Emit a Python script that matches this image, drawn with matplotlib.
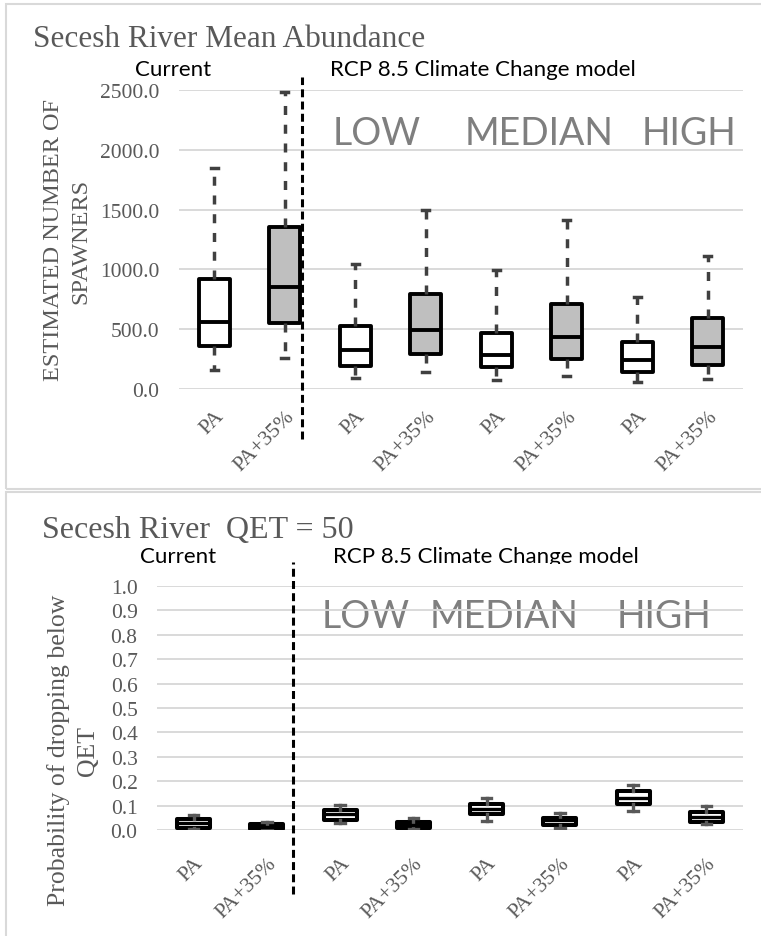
import matplotlib.pyplot as plt
from matplotlib.patches import Rectangle
from matplotlib.ticker import FormatStrFormatter
from matplotlib.transforms import Bbox, TransformedBbox

# box statistics
labels = ['PA', 'PA+35%'] * 4

abund_whislo = [160, 260, 90, 140, 75, 110, 60, 85]
abund_q1 = [360, 550, 195, 295, 180, 255, 140, 200]
abund_med = [560, 850, 325, 490, 285, 435, 240, 355]
abund_q3 = [920, 1355, 525, 795, 470, 710, 390, 590]
abund_whishi = [1845, 2480, 1045, 1500, 995, 1415, 770, 1115]
abund_fill = ['white', '#bfbfbf'] * 4

qet_whislo = [0.004, 0.003, 0.028, 0.004, 0.037, 0.008, 0.078, 0.025]
qet_q1 = [0.010, 0.005, 0.042, 0.008, 0.064, 0.022, 0.106, 0.032]
qet_med = [0.028, 0.012, 0.065, 0.020, 0.088, 0.040, 0.132, 0.052]
qet_q3 = [0.045, 0.024, 0.083, 0.034, 0.106, 0.050, 0.158, 0.074]
qet_whishi = [0.062, 0.032, 0.104, 0.049, 0.133, 0.070, 0.185, 0.100]

serif = 'Liberation Serif'
sans = 'Lato'
grey = '#595959'

W, H = 761, 937
fig = plt.figure(figsize=(W / 100, H / 100), dpi=100)


def fx(x):
    return x / W


def fy(y):
    return 1 - y / H


def add_ax(left, top, right, bottom):
    return fig.add_axes([fx(left), fy(bottom), (right - left) / W, (bottom - top) / H])


def stats(lo, q1, med, q3, hi):
    return [dict(whislo=a, q1=b, med=c, q3=d, whishi=e, fliers=[])
            for a, b, c, d, e in zip(lo, q1, med, q3, hi)]


def style(ax, pad_x):
    for s in ax.spines.values():
        s.set_visible(False)
    ax.set_xlim(-0.5, 7.5)
    ax.grid(axis='y', color='#d9d9d9', lw=1.4)
    ax.set_axisbelow(True)
    ax.tick_params(length=0, labelcolor=grey, labelsize=15.5)
    ax.tick_params(axis='y', pad=14)
    ax.tick_params(axis='x', pad=pad_x)
    ax.set_xticks(range(8))
    ax.set_xticklabels(labels, rotation=45, ha='right', rotation_mode='anchor')
    for t in ax.get_xticklabels() + ax.get_yticklabels():
        t.set_fontfamily(serif)
    ax.yaxis.set_major_formatter(FormatStrFormatter('%.1f'))


def vlabel(x, y, s, size):
    fig.text(fx(x), fy(y), s, family=serif, size=size, color=grey, rotation=90,
             ha='center', va='center')


# panel frames
fig.add_artist(Rectangle((fx(6), fy(490)), fx(800), (490 - 5) / H, transform=fig.transFigure,
                         fill=False, edgecolor='#d9d9d9', lw=1.5))
fig.add_artist(Rectangle((fx(6), fy(960)), fx(800), (960 - 493) / H, transform=fig.transFigure,
                         fill=False, edgecolor='#d9d9d9', lw=1.5))

# ---------------- top: mean abundance ----------------
ax1 = add_ax(179, 91, 743, 390)
bp = ax1.bxp(stats(abund_whislo, abund_q1, abund_med, abund_q3, abund_whishi),
             positions=range(8), widths=0.44, capwidths=0.1, patch_artist=True, showfliers=False,
             boxprops=dict(edgecolor='black', linewidth=2.8, joinstyle='round'),
             medianprops=dict(color='black', linewidth=2.8, solid_capstyle='butt'),
             whiskerprops=dict(color='#404040', linewidth=2.5, linestyle=(0, (2.6, 2.8))),
             capprops=dict(color='#404040', linewidth=2.5))
for patch, c in zip(bp['boxes'], abund_fill):
    patch.set_facecolor(c)
ax1.set_ylim(0, 2500)
ax1.set_yticks(range(0, 2501, 500))
style(ax1, 12.5)
ax1.axvline(1.25, ymin=-0.167, ymax=1.043, color='black', lw=2.2,
            linestyle=(0, (2.6, 1.4)), clip_on=False)

fig.text(fx(33), fy(47), 'Secesh River Mean Abundance', family=serif, size=22.5,
         color=grey, va='baseline')
fig.text(fx(173), fy(76), 'Current', family=sans, size=16, ha='center', va='baseline')
fig.text(fx(330), fy(76), 'RCP 8.5 Climate Change model', family=sans, size=16, va='baseline')
for x, s in [(333, 'LOW'), (465, 'MEDIAN'), (642, 'HIGH')]:
    ax1.text(fx(x), fy(145), s, family=sans, size=27, color='#7f7f7f', va='baseline',
             transform=fig.transFigure, zorder=0.3)
vlabel(54, 240, 'ESTIMATED NUMBER OF', 17.5)
vlabel(81, 241, 'SPAWNERS', 17.5)

# ---------------- bottom: probability below QET ----------------
ax2 = add_ax(157, 587, 743, 831)
ax2.bxp(stats(qet_whislo, qet_q1, qet_med, qet_q3, qet_whishi),
        positions=range(8), widths=0.45, capwidths=0.13, patch_artist=True, showfliers=False,
        boxprops=dict(facecolor='white', edgecolor='black', linewidth=2.9, joinstyle='round'),
        medianprops=dict(color='black', linewidth=2.4, solid_capstyle='butt'),
        whiskerprops=dict(color=grey, linewidth=2.4),
        capprops=dict(color=grey, linewidth=2.4))
ax2.set_ylim(0, 1.0)
ax2.set_yticks([i / 10 for i in range(11)])
style(ax2, 17)
ax2.axvline(1.35, ymin=-0.262, ymax=1.10, color='black', lw=2.2,
            linestyle=(0, (2.6, 1.4)), clip_on=False)

fig.text(fx(42), fy(538), 'Secesh River  QET = 50', family=serif, size=23,
         color=grey, va='baseline')
# the header row is cut off just under its baseline in the original
cut = TransformedBbox(Bbox([[0, fy(565)], [1, 1]]), fig.transFigure)
for x, s, ha in [(178, 'Current', 'center'), (333, 'RCP 8.5 Climate Change model', 'left')]:
    t = fig.text(fx(x), fy(563), s, family=sans, size=16, ha=ha, va='baseline')
    t.set_clip_box(cut)
    t.set_clip_on(True)
for x, s in [(322, 'LOW'), (430, 'MEDIAN'), (617, 'HIGH')]:
    ax2.text(fx(x), fy(628), s, family=sans, size=27, color='#7f7f7f', va='baseline',
             transform=fig.transFigure, zorder=0.3)
vlabel(59, 750, 'Probability of dropping below', 18.5)
vlabel(88, 751, 'QET', 18.5)

fig.savefig('out.png', dpi=100)
